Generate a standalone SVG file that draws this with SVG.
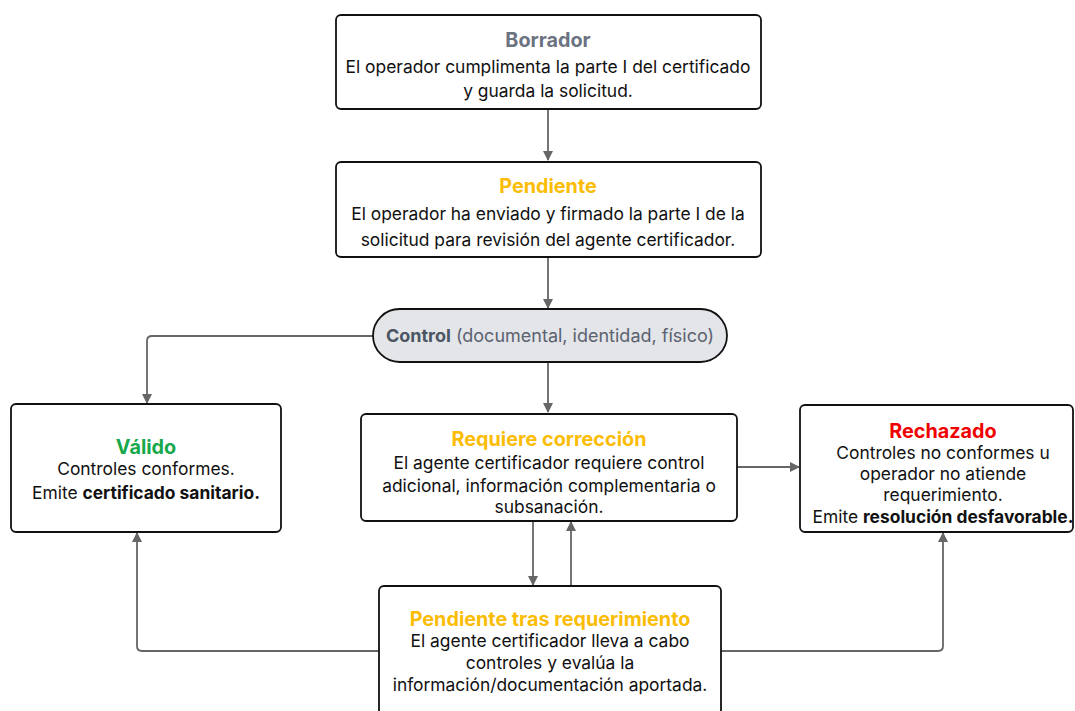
<svg xmlns="http://www.w3.org/2000/svg" width="1075" height="711" viewBox="0 0 1075 711">
<defs>
<marker id="arr" markerWidth="10" markerHeight="10" refX="9" refY="5" orient="auto" markerUnits="userSpaceOnUse">
<path d="M0,0 L10,5 L0,10 Z" fill="#666"/>
</marker>
<style>
.box{fill:#fff;stroke:#111;stroke-width:1.8}
.pill{fill:#e3e5e9;stroke:#111;stroke-width:1.8}
text{font-family:Inter,"Liberation Sans",sans-serif;font-size:17.4px;fill:#111;text-anchor:middle}
.t{font-size:19.8px;font-weight:700}
.b{font-weight:700}
.gray{fill:#6b7280}
.yel{fill:#fbbc04}
.red{fill:#f00000}
.grn{fill:#16a84a}
.c{fill:none;stroke:#666;stroke-width:1.8}
</style>
</defs>
<rect width="1075" height="711" fill="#fff"/>
<g id="connectors">
<path class="c" d="M548,109 V160" marker-end="url(#arr)"/>
<path class="c" d="M548,257 V308" marker-end="url(#arr)"/>
<path class="c" d="M373,336 H152 Q147,336 147,341 V403" marker-end="url(#arr)"/>
<path class="c" d="M548,362 V412" marker-end="url(#arr)"/>
<path class="c" d="M737,467 H799" marker-end="url(#arr)"/>
<path class="c" d="M533,521 V585" marker-end="url(#arr)"/>
<path class="c" d="M571,586 V522" marker-end="url(#arr)"/>
<path class="c" d="M379,651 H142 Q137,651 137,646 V533" marker-end="url(#arr)"/>
<path class="c" d="M721,651 H938 Q943,651 943,646 V533" marker-end="url(#arr)"/>
</g>
<g id="borrador">
<rect class="box" x="336" y="15" width="425" height="94" rx="5"/>
<text class="t gray" x="548" y="47">Borrador</text>
<text x="548" y="73">El operador cumplimenta la parte I del certificado</text>
<text x="548" y="97">y guarda la solicitud.</text>
</g>
<g id="pendiente">
<rect class="box" x="336" y="162" width="425" height="95" rx="5"/>
<text class="t yel" x="548" y="193">Pendiente</text>
<text x="548" y="220">El operador ha enviado y firmado la parte I de la</text>
<text x="548" y="246">solicitud para revisión del agente certificador.</text>
</g>
<g id="control">
<rect class="pill" x="373" y="309" width="354" height="53" rx="26.5"/>
<text x="550" y="342" style="font-size:18px"><tspan class="b" fill="#4b5563">Control</tspan><tspan fill="#5b6270"> (documental, identidad, físico)</tspan></text>
</g>
<g id="valido">
<rect class="box" x="11" y="404" width="270" height="128" rx="5"/>
<text class="t grn" x="146" y="454">Válido</text>
<text x="146" y="475">Controles conformes.</text>
<text x="146" y="499">Emite <tspan class="b">certificado sanitario.</tspan></text>
</g>
<g id="requiere">
<rect class="box" x="361" y="414" width="376" height="107" rx="5"/>
<text class="t yel" x="549" y="446">Requiere corrección</text>
<text x="549" y="469">El agente certificador requiere control</text>
<text x="549" y="492">adicional, información complementaria o</text>
<text x="549" y="513">subsanación.</text>
</g>
<g id="rechazado">
<rect class="box" x="800" y="405" width="273" height="127" rx="5"/>
<text class="t red" x="943" y="438">Rechazado</text>
<text x="943" y="459">Controles no conformes u</text>
<text x="943" y="480">operador no atiende</text>
<text x="943" y="501">requerimiento.</text>
<text x="943" y="523">Emite <tspan class="b">resolución desfavorable.</tspan></text>
</g>
<g id="pendiente-tras">
<rect class="box" x="379" y="586" width="342" height="130" rx="5"/>
<text class="t yel" x="550" y="626">Pendiente tras requerimiento</text>
<text x="550" y="647">El agente certificador lleva a cabo</text>
<text x="550" y="669">controles y evalúa la</text>
<text x="550" y="691">información/documentación aportada.</text>
</g>
</svg>
